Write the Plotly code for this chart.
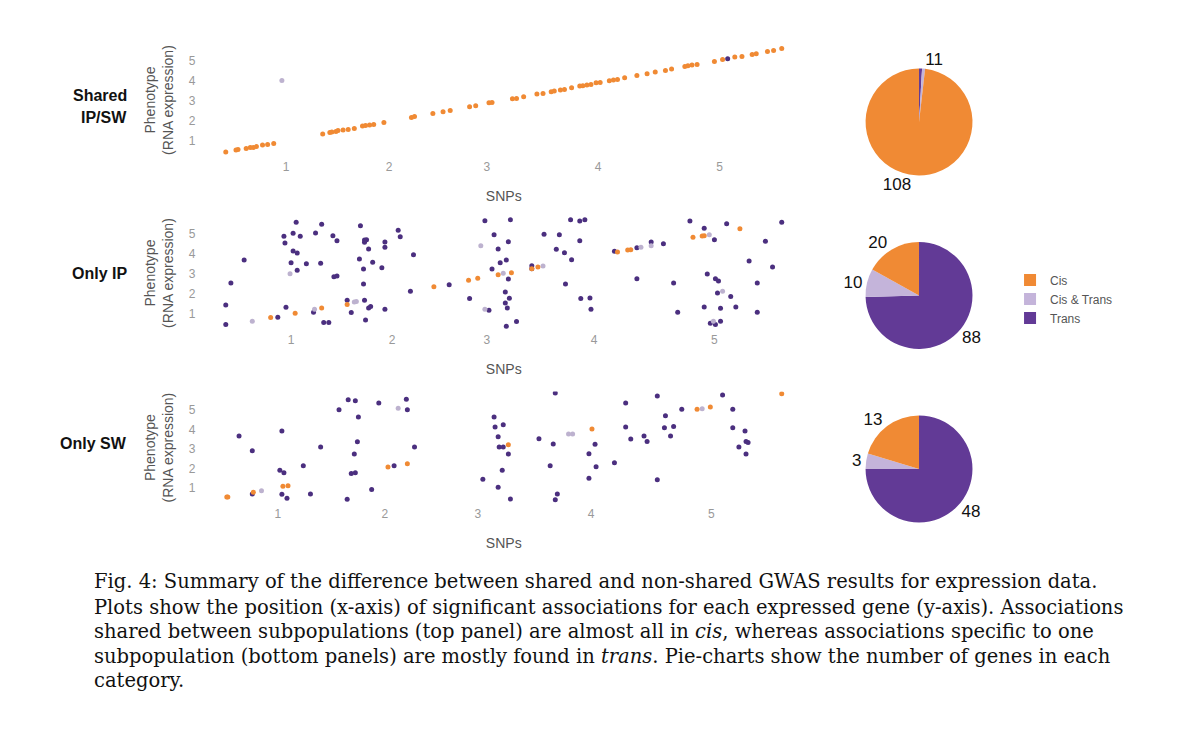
import plotly.graph_objects as go

# ---- data (x = genome position of SNP, y = gene position) ----
shared_cis_x = [0.40, 0.50, 0.52, 0.60, 0.64, 0.67, 0.70, 0.76, 0.81, 0.87,
                1.35, 1.42, 1.44, 1.48, 1.50, 1.55, 1.60, 1.66, 1.74, 1.77,
                1.81, 1.85, 1.95, 2.22, 2.25, 2.43, 2.53, 2.60, 2.79, 2.85,
                2.98, 3.01, 3.21, 3.25, 3.32, 3.45, 3.51, 3.59, 3.62, 3.68,
                3.72, 3.79, 3.87, 3.90, 3.94, 3.98, 4.03, 4.07, 4.16, 4.20,
                4.24, 4.31, 4.43, 4.53, 4.61, 4.71, 4.77, 4.90, 4.93, 4.97,
                5.02, 5.19, 5.27, 5.39, 5.46, 5.56, 5.60, 5.71, 5.77, 5.85]
shared_cis_y = [0.45, 0.55, 0.58, 0.63, 0.67, 0.68, 0.72, 0.80, 0.83, 0.88,
                1.35, 1.42, 1.45, 1.48, 1.52, 1.55, 1.58, 1.63, 1.75, 1.77,
                1.80, 1.83, 1.93, 2.18, 2.22, 2.38, 2.47, 2.53, 2.72, 2.77,
                2.92, 2.93, 3.12, 3.13, 3.22, 3.35, 3.38, 3.47, 3.50, 3.55,
                3.58, 3.67, 3.75, 3.77, 3.80, 3.83, 3.92, 3.93, 4.02, 4.05,
                4.08, 4.17, 4.28, 4.37, 4.45, 4.53, 4.60, 4.73, 4.77, 4.80,
                4.83, 4.98, 5.08, 5.20, 5.23, 5.33, 5.37, 5.48, 5.53, 5.63]
shared_both_x = [0.95]
shared_both_y = [4.03]
shared_trans_x = [5.32]
shared_trans_y = [5.12]

ip_cis_x = [0.84, 1.08, 1.34, 1.59, 2.44, 2.78, 2.87, 3.07, 3.20, 3.40, 3.46,
            4.24, 4.34, 4.37, 4.98, 5.07, 5.09, 5.44]
ip_cis_y = [0.82, 1.04, 1.30, 1.47, 2.37, 2.69, 2.79, 2.97, 3.07, 3.27, 3.35,
            4.10, 4.20, 4.22, 4.84, 4.90, 4.92, 5.27]
ip_both_x = [0.66, 1.03, 1.27, 1.66, 1.68, 2.90, 2.94, 3.12, 3.51, 4.47, 4.57,
             5.14, 5.27, 5.18]
ip_both_y = [0.64, 3.02, 1.24, 1.60, 1.62, 4.42, 1.24, 3.04, 3.40, 4.34, 4.42,
             4.97, 2.14, 0.64]
ip_trans_x = [1.09, 1.34, 1.72, 2.09, 0.97, 1.06, 1.13, 1.28, 1.45, 1.49,
              1.76, 1.78, 1.76, 1.96, 2.11, 0.98, 1.96, 1.80, 1.06, 1.10,
              2.24, 0.58, 1.71, 1.04, 1.19, 1.33, 1.84, 1.10, 1.75, 1.93,
              1.46, 1.49, 0.45, 1.75, 2.21, 2.59, 0.40, 0.99, 1.26, 1.59,
              1.76, 1.80, 1.82, 1.96, 1.63, 0.91, 0.40, 1.36, 1.41, 1.77,
              2.79, 2.98, 2.94, 3.03, 3.07, 3.09, 3.01, 3.19, 3.78, 3.87,
              3.92, 3.52, 3.67, 3.17, 3.87, 3.64, 3.72, 3.79, 3.15, 3.40,
              3.40, 3.17, 3.73, 3.14, 3.18, 3.14, 3.16, 3.25, 3.15, 3.88,
              3.97, 3.98, 4.21, 4.43, 4.57, 4.69, 4.43, 4.79, 4.83, 4.95,
              5.09, 5.31, 5.19, 5.85, 5.69, 5.53, 5.76, 5.12, 5.20, 5.23,
              5.61, 5.22, 5.35, 5.09, 5.25, 5.40, 5.61, 5.15, 5.20, 5.25]
ip_trans_y = [5.59, 5.49, 5.42, 5.19, 4.89, 5.04, 4.89, 5.05, 4.92, 4.67,
              4.70, 4.72, 4.59, 4.60, 4.87, 4.55, 4.34, 4.25, 4.15, 4.05,
              3.97, 3.70, 3.75, 3.57, 3.52, 3.54, 3.59, 3.19, 3.25, 3.32,
              2.87, 2.90, 2.55, 2.50, 2.14, 2.47, 1.45, 1.34, 1.09, 1.69,
              1.69, 1.30, 1.37, 1.24, 1.07, 0.84, 0.47, 0.57, 0.57, 0.70,
              1.77, 1.19, 5.67, 4.97, 4.25, 3.57, 3.25, 5.72, 5.72, 5.65,
              5.72, 4.99, 4.97, 4.62, 4.67, 4.24, 4.07, 3.72, 3.70, 3.42,
              3.27, 2.75, 2.50, 2.10, 1.79, 1.55, 1.30, 0.62, 0.39, 1.77,
              1.80, 1.24, 4.14, 4.32, 4.60, 4.52, 2.77, 2.55, 1.09, 5.65,
              5.29, 5.52, 4.72, 5.59, 4.64, 3.65, 3.35, 3.00, 2.77, 2.65,
              2.55, 2.05, 1.87, 1.35, 1.29, 1.35, 1.09, 0.54, 0.47, 0.64]

sw_cis_x = [0.41, 0.42, 0.67, 0.96, 1.01, 1.99, 2.18, 3.17, 3.99, 5.02, 5.15, 5.85]
sw_cis_y = [0.54, 0.54, 0.78, 1.09, 1.12, 2.08, 2.25, 3.22, 4.03, 5.04, 5.15, 5.84]
sw_both_x = [0.75, 2.09, 3.76, 3.80, 5.07]
sw_both_y = [0.86, 5.09, 3.77, 3.77, 5.07]
sw_trans_x = [1.60, 1.67, 1.90, 2.17, 1.51, 2.18, 1.70, 0.95, 0.53, 1.33,
              1.69, 2.25, 0.66, 1.66, 1.16, 2.05, 0.93, 0.97, 1.63, 1.67,
              1.83, 0.66, 0.95, 1.23, 1.00, 1.59, 3.03, 3.04, 3.07, 3.08,
              3.12, 3.11, 2.92, 3.07, 3.12, 3.63, 4.32, 4.63, 5.27, 4.87,
              5.37, 4.71, 4.32, 4.70, 4.79, 5.37, 5.49, 3.47, 3.61, 4.37,
              4.50, 4.53, 4.76, 3.17, 4.02, 3.96, 5.50, 5.52, 5.43, 5.50,
              3.58, 4.03, 4.21, 3.96, 4.63, 3.19, 3.65, 3.63]
sw_trans_y = [5.53, 5.48, 5.36, 5.55, 5.02, 5.02, 4.64, 3.92, 3.67, 3.10,
              3.37, 3.10, 2.91, 2.74, 2.14, 2.14, 1.91, 1.78, 1.75, 1.78,
              0.93, 0.69, 0.68, 0.69, 0.47, 0.42, 4.64, 4.13, 3.63, 3.10,
              3.10, 1.91, 1.45, 1.04, 4.25, 5.87, 5.36, 5.72, 5.77, 5.04,
              5.04, 4.71, 4.13, 4.09, 4.16, 4.09, 3.92, 3.53, 3.26, 3.51,
              3.67, 3.39, 3.67, 2.74, 3.24, 2.76, 3.39, 3.34, 3.10, 2.74,
              2.14, 2.09, 2.30, 1.50, 1.43, 0.44, 0.69, 0.40]

# chromosome tick positions (differ slightly between the three panels)
shared_ticks = [0.99, 2.00, 2.96, 4.05, 5.24]
ip_ticks = [1.04, 2.03, 2.96, 4.01, 5.19]
sw_ticks = [0.91, 1.96, 2.87, 3.98, 5.16]
chrom_labels = ["1", "2", "3", "4", "5"]

# pie slices, clockwise from 12 o'clock
pie_labels = ["Trans", "Cis & Trans", "Cis"]
shared_counts = [1, 1, 108]
ip_counts = [88, 10, 20]
sw_counts = [48, 3, 13]

row_titles = [["Shared", "IP/SW"], ["Only IP"], ["Only SW"]]

caption_lines = [
    "Fig. 4: Summary of the difference between shared and non-shared GWAS results for expression data.",
    "Plots show the position (x-axis) of significant associations for each expressed gene (y-axis). Associations",
    "shared between subpopulations (top panel) are almost all in <i>cis</i>, whereas associations specific to one",
    "subpopulation (bottom panels) are mostly found in <i>trans</i>. Pie-charts show the number of genes in each",
    "category.",
]

ORANGE = "#F08A34"
LILAC = "#C4B4DA"
PURPLE = "#623A96"
DOT_PURPLE = "#4B2F7F"
DOT_LILAC = "#BDB2CF"
SANS = "Liberation Sans Narrow, Liberation Sans, Arial, sans-serif"

panels = [
    dict(trans=(shared_trans_x, shared_trans_y), both=(shared_both_x, shared_both_y),
         cis=(shared_cis_x, shared_cis_y), ticks=shared_ticks, counts=shared_counts,
         ydom=[0.7898, 0.9424], yrange=[0.2, 5.9], pdom=[0.7651, 0.9083], label_px=106.5),
    dict(trans=(ip_trans_x, ip_trans_y), both=(ip_both_x, ip_both_y),
         cis=(ip_cis_x, ip_cis_y), ticks=ip_ticks, counts=ip_counts,
         ydom=[0.5582, 0.7108], yrange=[0.2, 5.9], pdom=[0.5328, 0.6760], label_px=273),
    dict(trans=(sw_trans_x, sw_trans_y), both=(sw_both_x, sw_both_y),
         cis=(sw_cis_x, sw_cis_y), ticks=sw_ticks, counts=sw_counts,
         ydom=[0.3258, 0.4759], yrange=[0.2, 5.95], pdom=[0.3005, 0.4438], label_px=443),
]


def pie_text(counts):
    # tiny neighbouring slices share one label, as in the original ("11")
    total = sum(counts)
    small = [k for k, v in enumerate(counts) if v / total < 0.03]
    text = [str(v) for v in counts]
    if len(small) > 1:
        text[small[0]] = "".join(str(counts[k]) for k in small)
        for k in small[1:]:
            text[k] = ""
    return text


fig = go.Figure()
layout = {}
annotations = []

for i, p in enumerate(panels):
    s = "" if i == 0 else str(i + 1)
    for (xs, ys), col in [(p["trans"], DOT_PURPLE), (p["both"], DOT_LILAC), (p["cis"], ORANGE)]:
        fig.add_trace(go.Scatter(
            x=xs, y=ys, mode="markers",
            marker=dict(size=5, color=col),
            xaxis="x" + s, yaxis="y" + s,
            showlegend=False, hoverinfo="skip",
        ))

    layout["xaxis" + s] = dict(
        domain=[0.1754, 0.6642], range=[0.25, 6.0], anchor="y" + s,
        tickvals=p["ticks"], ticktext=chrom_labels,
        showgrid=False, zeroline=False, showline=False, ticks="",
        tickfont=dict(family=SANS, size=12, color="#999999"), ticklabelstandoff=1,
        title=dict(text="SNPs", font=dict(family=SANS, size=14, color="#555555"), standoff=18),
    )
    layout["yaxis" + s] = dict(
        domain=p["ydom"], range=p["yrange"], anchor="x" + s,
        tickvals=[1, 2, 3, 4, 5], ticktext=chrom_labels,
        showgrid=False, zeroline=False, showline=False, ticks="",
        tickfont=dict(family=SANS, size=12, color="#999999"), ticklabelstandoff=14,
        title=dict(text="Phenotype<br>(RNA expression)",
                   font=dict(family=SANS, size=14, color="#555555"), standoff=11),
    )

    fig.add_trace(go.Pie(
        labels=pie_labels, values=p["counts"], sort=False,
        direction="clockwise", rotation=0,
        marker=dict(colors=[PURPLE, LILAC, ORANGE], line=dict(width=0)),
        text=pie_text(p["counts"]), textinfo="text", textposition="outside",
        textfont=dict(family="Liberation Sans, Arial, sans-serif", size=17, color="#111111"),
        domain=dict(x=[0.7213, 0.8104], y=p["pdom"]),
        showlegend=True, hoverinfo="label+value",
    ))

    lines = row_titles[i]
    for j, t in enumerate(lines):
        py = p["label_px"] + (j - (len(lines) - 1) / 2) * 23
        annotations.append(dict(
            text="<b>" + t + "</b>", xref="paper", yref="paper",
            x=0.1075, y=1 - py / 747, xanchor="right", yanchor="middle",
            showarrow=False, font=dict(family=SANS, size=16, color="#111111"),
        ))

cap_y = [0.2209, 0.1874, 0.1540, 0.1205, 0.0884]
for line, yy in zip(caption_lines, cap_y):
    annotations.append(dict(
        text=line, xref="paper", yref="paper", x=0.0767, y=yy,
        xanchor="left", yanchor="middle", showarrow=False,
        font=dict(family="DejaVu Serif, Liberation Serif, serif", size=19.5, color="#111111"),
    ))

fig.update_layout(
    width=1200, height=747,
    margin=dict(l=0, r=0, t=0, b=0),
    paper_bgcolor="white", plot_bgcolor="white",
    annotations=annotations,
    legend=dict(x=0.8417, y=0.5997, xanchor="left", yanchor="middle",
                traceorder="reversed",
                font=dict(family=SANS, size=12, color="#555555"),
                bgcolor="rgba(0,0,0,0)"),
    **layout,
)

fig.write_html("out.html", config={"displayModeBar": False},
               post_script="document.body.style.margin='0px';")
